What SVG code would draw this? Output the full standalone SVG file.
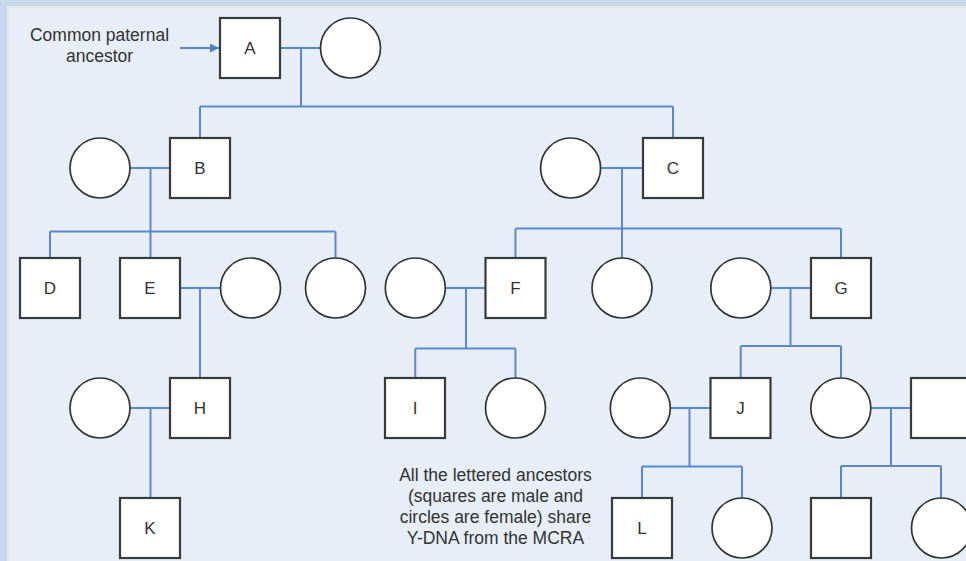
<svg xmlns="http://www.w3.org/2000/svg" width="966" height="561" viewBox="0 0 966 561">
  <defs>
    <style>
      .male { fill: #ffffff; stroke: #3a3a3a; stroke-width: 2.2; }
      .female { fill: #ffffff; stroke: #333333; stroke-width: 1.7; }
      .lbl { font-family: "Liberation Sans", Arial, sans-serif; font-size: 17px; fill: #333333; text-anchor: middle; }
      .note { font-family: "Liberation Sans", Arial, sans-serif; font-size: 17.5px; fill: #333333; text-anchor: middle; }
      .link { fill: none; stroke: #5b87cf; stroke-width: 2; }
    </style>
    <marker id="arrowhead" viewBox="0 0 10 10" refX="10" refY="5" markerWidth="9" markerHeight="9" markerUnits="userSpaceOnUse" orient="auto">
      <path d="M0,0 L10,5 L0,10 z" fill="#4f7fc9"/>
    </marker>
  </defs>

  <!-- page background -->
  <rect x="0" y="0" width="966" height="561" fill="#c9d7ee"/>
  <rect x="8" y="7" width="960" height="556" fill="#e7eef8" stroke="#e3eae2" stroke-width="2"/>

  <!-- connectors -->
  <g id="connectors" class="link">
    <path d="M180,48 H219" marker-end="url(#arrowhead)"/>
    <!-- A family -->
    <path d="M280,48 H320.5 M301,48 V106.5 M200,106.5 H673 M200,106.5 V138 M673,106.5 V138"/>
    <!-- B family -->
    <path d="M130,168 H170 M150.5,168 V231.5 M50,231.5 H335.5 M50,231.5 V258 M150.5,231.5 V258 M335.5,231.5 V258"/>
    <!-- C family -->
    <path d="M601,168 H643 M622,168 V228.5 M515.5,228.5 H841 M515.5,228.5 V258 M622,228.5 V258 M841,228.5 V258"/>
    <!-- E family -->
    <path d="M180,288 H220 M200,288 V378"/>
    <!-- F family -->
    <path d="M445,288 H485.5 M466,288 V348.5 M415.3,348.5 H515.5 M415.3,348.5 V378 M515.5,348.5 V378"/>
    <!-- G family -->
    <path d="M771,288 H811 M790.5,288 V346 M740.7,346 H841 M740.7,346 V378 M841,346 V378"/>
    <!-- H family -->
    <path d="M130,408 H170 M150.5,408 V498"/>
    <!-- J family -->
    <path d="M670.5,408 H710.5 M689.5,408 V466.5 M642,466.5 H742 M642,466.5 V498 M742,466.5 V498"/>
    <!-- right family -->
    <path d="M871,408 H911 M891,408 V466 M841,466 H941 M841,466 V498 M941,466 V498"/>
  </g>

  <!-- generation 1 -->
  <g id="nodeA"><rect class="male" x="220" y="18" width="60" height="60"/><text class="lbl" x="250" y="54">A</text></g>
  <g id="wifeA"><circle class="female" cx="350.5" cy="48" r="30"/></g>

  <!-- generation 2 -->
  <g id="wifeB"><circle class="female" cx="100" cy="168" r="30"/></g>
  <g id="nodeB"><rect class="male" x="170" y="138" width="60" height="60"/><text class="lbl" x="200" y="174">B</text></g>
  <g id="wifeC"><circle class="female" cx="570.6" cy="168" r="30"/></g>
  <g id="nodeC"><rect class="male" x="643" y="138" width="60" height="60"/><text class="lbl" x="673" y="174">C</text></g>

  <!-- generation 3 -->
  <g id="nodeD"><rect class="male" x="20" y="258" width="60" height="60"/><text class="lbl" x="50" y="294">D</text></g>
  <g id="nodeE"><rect class="male" x="120" y="258" width="60" height="60"/><text class="lbl" x="150" y="294">E</text></g>
  <g id="wifeE"><circle class="female" cx="250.5" cy="288" r="30"/></g>
  <g id="daughterB"><circle class="female" cx="335.5" cy="288" r="30"/></g>
  <g id="wifeF"><circle class="female" cx="415.3" cy="288" r="30"/></g>
  <g id="nodeF"><rect class="male" x="485.5" y="258" width="60" height="60"/><text class="lbl" x="515.5" y="294">F</text></g>
  <g id="daughterC"><circle class="female" cx="622" cy="288" r="30"/></g>
  <g id="wifeG"><circle class="female" cx="740.8" cy="288" r="30"/></g>
  <g id="nodeG"><rect class="male" x="811" y="258" width="60" height="60"/><text class="lbl" x="841" y="294">G</text></g>

  <!-- generation 4 -->
  <g id="wifeH"><circle class="female" cx="100" cy="408" r="30"/></g>
  <g id="nodeH"><rect class="male" x="170" y="378" width="60" height="60"/><text class="lbl" x="200" y="414">H</text></g>
  <g id="nodeI"><rect class="male" x="385" y="378" width="60" height="60"/><text class="lbl" x="415" y="414">I</text></g>
  <g id="daughterF"><circle class="female" cx="515.5" cy="408" r="30"/></g>
  <g id="wifeJ"><circle class="female" cx="640.3" cy="408" r="30"/></g>
  <g id="nodeJ"><rect class="male" x="710.5" y="378" width="60" height="60"/><text class="lbl" x="740.5" y="414">J</text></g>
  <g id="daughterG"><circle class="female" cx="840.8" cy="408" r="30"/></g>
  <g id="husbandDaughterG"><rect class="male" x="911" y="378" width="60" height="60"/></g>

  <!-- generation 5 -->
  <g id="nodeK"><rect class="male" x="120" y="498" width="60" height="60"/><text class="lbl" x="150" y="534">K</text></g>
  <g id="nodeL"><rect class="male" x="612" y="498" width="60" height="60"/><text class="lbl" x="642" y="534">L</text></g>
  <g id="daughterJ"><circle class="female" cx="742" cy="528" r="30"/></g>
  <g id="sonDaughterG"><rect class="male" x="811" y="498" width="60" height="60"/></g>
  <g id="daughterDaughterG"><circle class="female" cx="941.5" cy="528" r="30"/></g>

  <!-- annotations -->
  <g id="ancestorNote">
    <text class="note" x="99.5" y="41">Common paternal</text>
    <text class="note" x="99.5" y="62">ancestor</text>
  </g>
  <g id="legendNote">
    <text class="note" x="495.5" y="481">All the lettered ancestors</text>
    <text class="note" x="495.5" y="502">(squares are male and</text>
    <text class="note" x="495.5" y="523">circles are female) share</text>
    <text class="note" x="495.5" y="544">Y-DNA from the MCRA</text>
  </g>
</svg>
